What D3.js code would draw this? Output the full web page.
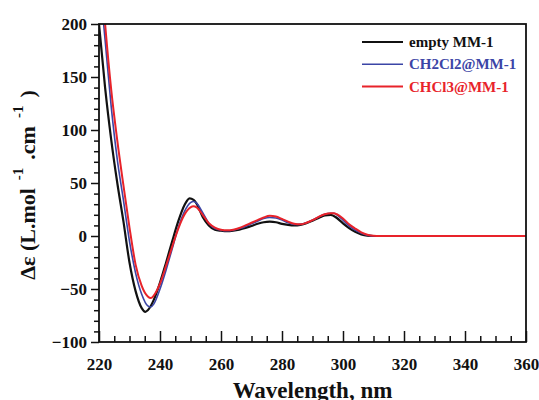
<!DOCTYPE html>
<html>
<head>
<meta charset="utf-8">
<script src="https://cdn.jsdelivr.net/npm/d3@7"></script>
<style>
  body { margin: 0; background: #fff; }
  svg text { font-family: "Liberation Serif", "Times New Roman", serif; font-weight: bold; }
</style>
</head>
<body>
<svg id="chart" width="539" height="400"></svg>
<script>
// wavelength (nm) and delta-epsilon values
var emptyX = [220,222,224,226,228,230,232,234,235.2,236,238,240,242,244,246,248,249.7,251,252,254,256,258,260,262,264,266,268,270,272,274,276,278,280,282,284,286,288,290,292,294,296,298,300,302,304,306,308,310,320,330,340,350,360];
var emptyY = [200,140,91,50,14,-25,-52,-68,-71.5,-70,-60,-44,-25,-5,14,29,35.5,34,30.5,18,10,6,5,4.5,5,6,7.5,9.5,11.5,13,13.5,13,11.5,10.5,10,10.5,12,14.5,17,19.5,20,17,12,7.5,4,1.5,0.3,0,0,0,0,0,0];

var ch2X = [221,222,224,226,228,230,232,234,236,237,238,240,242,244,246,248,250,251,252,254,256,258,260,262,264,266,268,270,272,274,276,278,280,282,284,286,288,290,292,294,296,297,298,300,302,304,306,308,310,320,330,340,350,360];
var ch2Y = [216,185,122,72,34,-5,-35,-55,-66,-67,-64,-50,-32,-12,8,23,31.5,32.5,31,22,12,7,5.5,5,5.5,7,9,11.5,14,16.5,17.5,17,15,12.5,11,11,12.5,15,18,20.5,21.5,21.5,20,15,9.5,5.5,2.5,0.8,0,0,0,0,0,0];

var chcl3X = [221,222,224,226,228,230,232,234,236,237,238,240,242,244,246,248,250,251,252,254,256,258,260,262,264,266,268,270,272,274,276,278,280,282,284,286,288,290,292,294,296,297,298,300,302,304,306,308,310,312,320,330,340,350,360];
var chcl3Y = [235,200,138,90,48,8,-27,-47,-57,-58.5,-56,-45,-28,-10,7,20,27,28,27,20,12,8,6,5.5,6,7.5,10,12.5,15,17.5,19,18.5,16,13.5,11.5,11,12.5,15,18,20.5,21.5,21.5,20.5,16.5,11,7,3.5,1.2,0.2,0,0,0,0,0,0];

var seriesNames = ["empty MM-1", "CH2Cl2@MM-1", "CHCl3@MM-1"];
var seriesColors = ["#111111", "#3b45a6", "#e8232a"];

var xTicks = [220,240,260,280,300,320,340,360];
var yTicks = [-100,-50,0,50,100,150,200];

var svg = d3.select("#chart");
var pLeft = 99, pRight = 526, pTop = 24, pBottom = 342;

var x = d3.scaleLinear().domain([220,360]).range([pLeft,pRight]);
var y = d3.scaleLinear().domain([-100,200]).range([pBottom,pTop]);

svg.append("defs").append("clipPath").attr("id","plotClip")
  .append("rect").attr("x",pLeft).attr("y",pTop).attr("width",pRight-pLeft).attr("height",pBottom-pTop);

// minor ticks
var xMinor = d3.range(220,361,5).filter(function(d){ return d%20 != 0; });
var yMinor = d3.range(-100,201,10).filter(function(d){ return d%50 != 0; });

svg.append("g").attr("transform","translate(0,"+pBottom+")")
  .call(d3.axisBottom(x).tickValues(xMinor).tickSize(-6).tickFormat(""));
var xAxis = svg.append("g").attr("transform","translate(0,"+pBottom+")")
  .call(d3.axisBottom(x).tickValues(xTicks).tickSize(-11).tickPadding(16).tickFormat(d3.format("d")));
svg.append("g").attr("transform","translate("+pLeft+",0)")
  .call(d3.axisLeft(y).tickValues(yMinor).tickSize(5).tickFormat(""));
var yAxis = svg.append("g").attr("transform","translate("+pLeft+",0)")
  .call(d3.axisLeft(y).tickValues(yTicks).tickSize(8).tickPadding(4).tickFormat(d3.format("d")));

svg.selectAll(".domain").remove();
svg.selectAll(".tick line").attr("stroke","#111").attr("stroke-width",1.5);
svg.selectAll(".tick text").attr("fill","#111").style("font-size","17px")
  .style("font-family","'Liberation Serif', serif").style("font-weight","bold");
yAxis.selectAll(".tick text").attr("dy","0.35em");

// data lines
var line = d3.line()
  .x(function(d){ return x(d[0]); })
  .y(function(d){ return y(d[1]); })
  .curve(d3.curveMonotoneX);

var allSeries = [
  d3.zip(emptyX, emptyY),
  d3.zip(ch2X, ch2Y),
  d3.zip(chcl3X, chcl3Y)
];
var widths = [2.2, 1.6, 2];

var plot = svg.append("g").attr("clip-path","url(#plotClip)");
allSeries.forEach(function(s,i){
  plot.append("path").datum(s)
    .attr("d",line)
    .attr("fill","none")
    .attr("stroke",seriesColors[i])
    .attr("stroke-width",widths[i])
    .attr("stroke-linejoin","round");
});

// frame
svg.append("rect").attr("x",pLeft).attr("y",pTop)
  .attr("width",pRight-pLeft).attr("height",pBottom-pTop)
  .attr("fill","none").attr("stroke","#111").attr("stroke-width",1.8);

// legend
var legend = svg.append("g");
seriesNames.forEach(function(name,i){
  var ly = 42 + i*22.3;
  legend.append("line").attr("x1",362).attr("x2",403).attr("y1",ly).attr("y2",ly)
    .attr("stroke",seriesColors[i]).attr("stroke-width",widths[i]);
  legend.append("text").attr("x",409).attr("y",ly).attr("dy","0.33em")
    .attr("fill",seriesColors[i]).style("font-size","15px").text(name);
});

// axis titles
svg.append("text").attr("x",(pLeft+pRight)/2).attr("y",398)
  .attr("text-anchor","middle").style("font-size","23px").attr("fill","#111")
  .text("Wavelength, nm");

var yt = svg.append("text").attr("transform","translate(35,185) rotate(-90)")
  .attr("text-anchor","middle").style("font-size","22px").attr("fill","#111");
yt.append("tspan").text("\u0394\u03b5 (L.mol");
yt.append("tspan").attr("dx","8").attr("dy","-12").style("font-size","15px").text("-1");
yt.append("tspan").attr("dx","8").attr("dy","12").text(".cm");
yt.append("tspan").attr("dx","8").attr("dy","-12").style("font-size","15px").text("-1");
yt.append("tspan").attr("dx","8").attr("dy","12").text(")");
</script>
</body>
</html>
